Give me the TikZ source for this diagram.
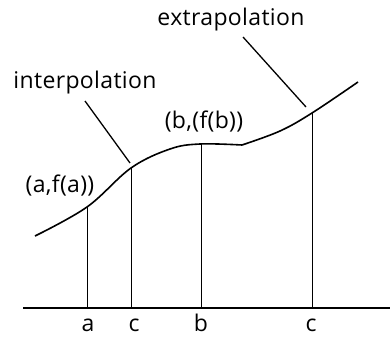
\documentclass[tikz,border=0pt]{standalone}
\usepackage{fontspec}
\setmainfont{Open Sans}[LetterSpace=1.5]
\usetikzlibrary{positioning}

\begin{document}
\begin{tikzpicture}[x=1pt,y=-1pt,
  lbl/.style={font=\fontsize{23}{26}\selectfont,inner sep=0pt,anchor=base},
  drop/.style={line width=0.6pt},
  lead/.style={line width=1.3pt}]
\useasboundingbox (0,0) rectangle (390,337);
% axis
\coordinate (x0) at (23,308);
\coordinate (x1) at (390,308);
\draw[line width=1.2pt] (x0) -- (x1);
% curve
\draw[line width=1.6pt] plot[smooth,tension=0.6] coordinates {(35,236) (87,207) (131,168) (170,149) (200,144) (242,145)};
\draw[line width=1.6pt] plot[smooth,tension=0.6] coordinates {(242,145) (280,131) (312,113) (358,82)};
% points on curve
\coordinate (fa) at (87,207);
\coordinate (fc) at (131,168);
\coordinate (fb) at (201,144);
\coordinate (fd) at (312,113);
\coordinate (pa) at (87,308);
\coordinate (pc) at (131,308);
\coordinate (pb) at (201,308);
\coordinate (pd) at (312,308);
\draw[drop] (fa) -- (pa);
\draw[drop] (fc) -- (pc);
\draw[drop] (fb) -- (pb);
\draw[drop] (fd) -- (pd);
% labels
\node[lbl] (la) at (88,331) {a};
\node[lbl] (lc) at (134,331) {c};
\node[lbl] (lb) at (201,331) {b};
\node[lbl] (ld) at (311,331) {c};
\node[lbl] (pta) at (60,192) {(a,f(a))};
\node[lbl] (ptb) at (204,128) {(b,(f(b))};
\node[lbl] (inter) at (85,88) {interpolation};
\node[lbl] (extra) at (231,26) {extrapolation};
% leaders
\coordinate (i0) at (85,101);
\coordinate (i1) at (130,163);
\coordinate (e0) at (243,37);
\coordinate (e1) at (306,107);
\draw[lead] (i0) -- (i1);
\draw[lead] (e0) -- (e1);
\end{tikzpicture}
\end{document}
